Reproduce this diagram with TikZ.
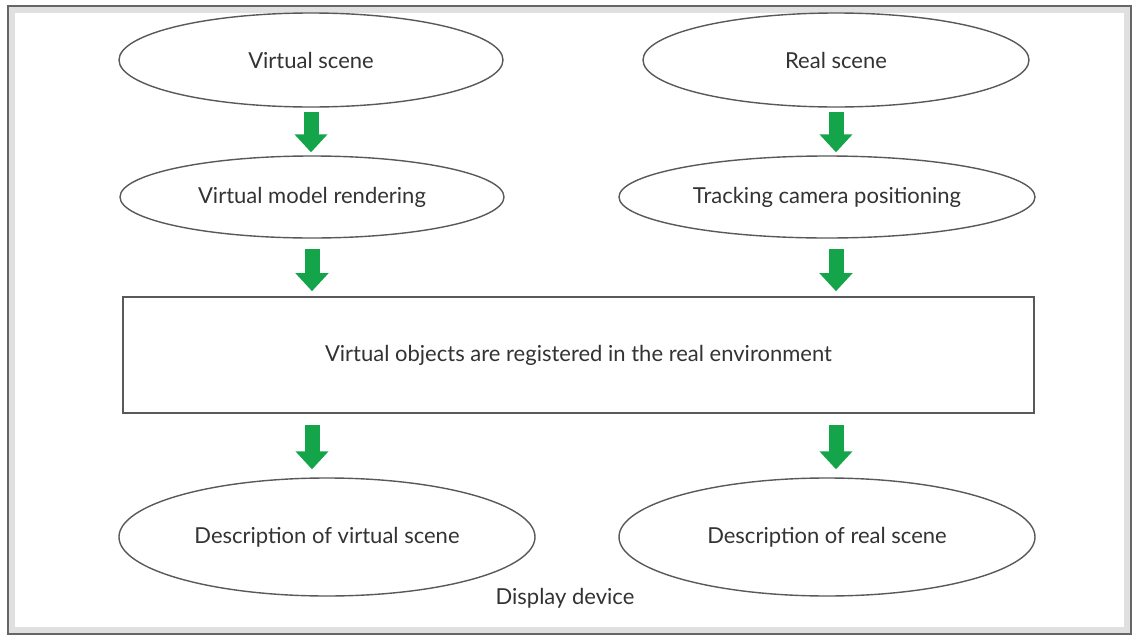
\documentclass[tikz,border=0pt]{standalone}
\usepackage{fontspec}
\setmainfont{Lato}
\usetikzlibrary{shapes.geometric,arrows.meta}
\begin{document}
\begin{tikzpicture}[x=0.5pt,y=-0.5pt,
    elip/.style={ellipse,draw=lgray,line width=0.7pt,inner sep=0pt,text=tgray,font=\fontsize{11}{13}\selectfont},
    caja/.style={rectangle,draw=lgray,line width=0.8pt,inner sep=0pt,text=tgray,font=\fontsize{11}{13}\selectfont},
    flecha/.style={ggreen,line width=7.5pt,-{Triangle[width=16pt,length=9pt]}}]
        %colores
        \colorlet{lgray}{black!65}
        \colorlet{tgray}{black!80}
        \definecolor{ggreen}{RGB}{20,165,75}
        \useasboundingbox (0,0) rectangle (1137,643);
        % marco
        \fill[white] (0,0) rectangle (1137,643);
        \draw[black!12,line width=3pt] (12,10) rectangle (1127,630);
        \draw[black!60,line width=1.3pt] (8,6) rectangle (1131,634);

        % elipses arriba
        \node[elip,minimum width=192pt,minimum height=47pt] (vs) at (311,60) {Virtual scene};
        \node[elip,minimum width=193pt,minimum height=47pt] (rs) at (836,60) {Real scene};
        \node[elip,minimum width=192pt,minimum height=41pt] (vmr) at (312,197) {Virtual model rendering};
        \node[elip,minimum width=208pt,minimum height=41pt] (tcp) at (827,197) {Tracking camera positioning};

        % registro
        \node[caja,minimum width=455.5pt,minimum height=58pt] (reg) at (578.5,355) {Virtual objects are registered in the real environment};

        % elipses abajo
        \node[elip,minimum width=208pt,minimum height=59pt] (dvs) at (327,537) {Description of virtual scene};
        \node[elip,minimum width=208pt,minimum height=59pt] (drs) at (827,537) {Description of real scene};
        \node[text=tgray,font=\fontsize{11}{13}\selectfont] (dd) at (565,598) {Display device};

        % flechas
        \draw[flecha,shorten <=2pt,shorten >=1.5pt] (vs.south) -- (vs.south |- vmr.north);
        \draw[flecha,shorten <=2pt,shorten >=1.5pt] (rs.south) -- (rs.south |- tcp.north);
        \draw[flecha,shorten <=5pt,shorten >=2.5pt] (vmr.south) -- (vmr.south |- reg.north);
        \draw[flecha,shorten <=5pt,shorten >=2.5pt] (rs.south |- tcp.south) -- (rs.south |- reg.north);
        \draw[flecha,shorten <=5.5pt,shorten >=4pt] (reg.south -| vmr.south) -- (vmr.south |- dvs.north);
        \draw[flecha,shorten <=5.5pt,shorten >=4pt] (reg.south -| rs.south) -- (rs.south |- drs.north);
    \end{tikzpicture}
\end{document}
